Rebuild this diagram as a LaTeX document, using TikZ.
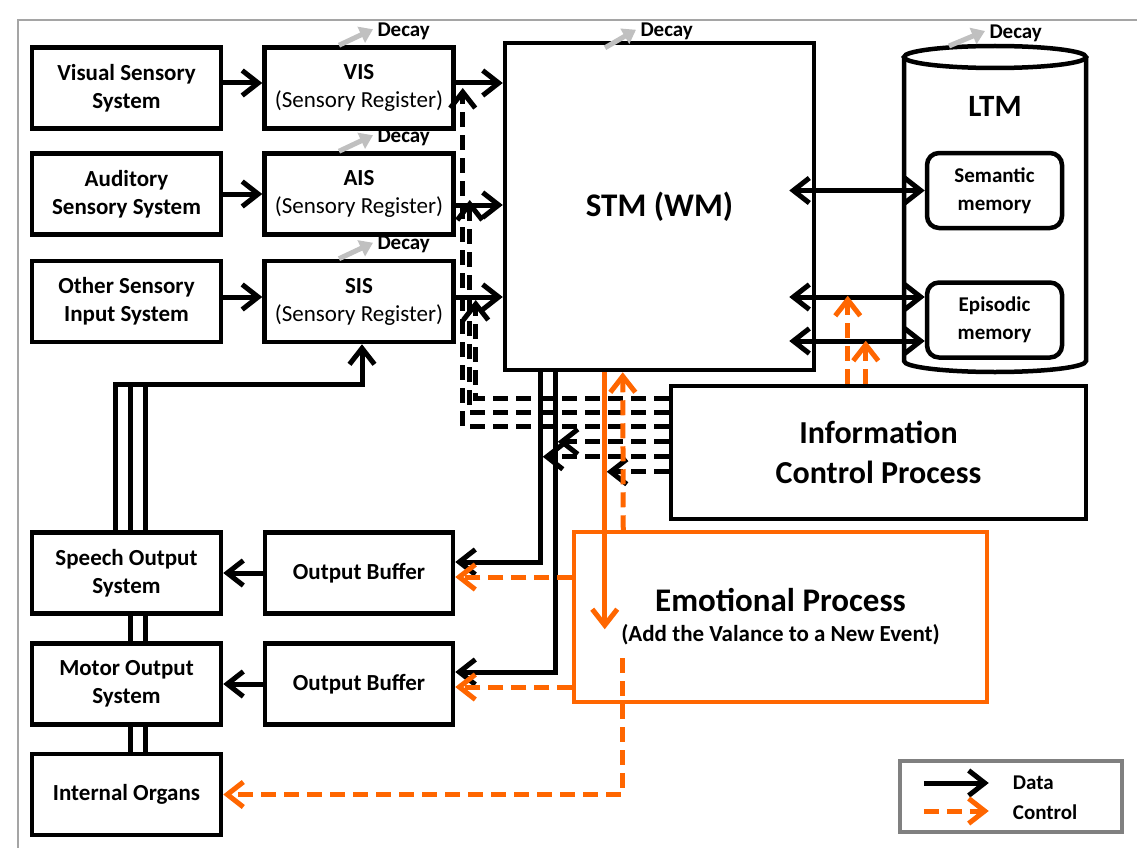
\documentclass[tikz,border=0pt]{standalone}
\usepackage{fontspec}
\setmainfont{Carlito}
\usetikzlibrary{arrows.meta,calc,backgrounds}
\definecolor{emoorange}{RGB}{255,102,0}
\definecolor{decaygray}{RGB}{192,192,192}
\definecolor{framegray}{RGB}{165,165,165}
\definecolor{legendgray}{RGB}{128,128,128}
\begin{document}
\begin{tikzpicture}[x=1pt,y=-1pt,
    >={Straight Barb[length=16pt,width=25pt]},
    box/.style={draw,line width=4.5pt,fill=white,align=center,inner sep=0pt,
        font=\fontsize{23}{28}\selectfont\bfseries},
    sbox/.style={box,minimum width=189,minimum height=81},
    data/.style={line width=5pt,->},
    ctrl/.style={line width=5pt,->,dash pattern=on 15pt off 8pt},
    decay/.style={line width=5pt,decaygray,-{Triangle[length=13pt,width=17pt]}},
    decaytext/.style={black,right,inner sep=2pt,yshift=-2pt,font=\fontsize{21}{24}\selectfont\bfseries}]
    \useasboundingbox (0,0) rectangle (1137,848);
    % sensory side
    \node[sbox] (vss) at (126.5,88) {Visual Sensory\\System};
    \node[sbox] (ass) at (126.5,194) {Auditory\\Sensory System};
    \node[sbox] (oss) at (126.5,301.5) {Other Sensory\\Input System};
    \node[sbox] (vis) at (359,88) {VIS\\{\mdseries (Sensory Register)}};
    \node[sbox] (ais) at (359,194) {AIS\\{\mdseries (Sensory Register)}};
    \node[sbox] (sis) at (359,301.5) {SIS\\{\mdseries (Sensory Register)}};
    % memories
    \node[box,minimum width=309,minimum height=327,font=\fontsize{33}{40}\selectfont\bfseries] (stm) at (659.5,206.5) {STM (WM)};
    \draw[line width=4.5pt,fill=white] (904,57) -- (904,361) arc[start angle=180,end angle=0,x radius=91,y radius=11] -- (1086,57);
    \draw[line width=4.5pt,fill=white] (995,57) ellipse[x radius=91,y radius=11];
    \coordinate (ltmtop) at (995,46);
    \node[font=\fontsize{31}{36}\selectfont\bfseries] (ltm) at (995,106) {LTM};
    \node[box,rounded corners=12pt,minimum width=135,minimum height=75,font=\fontsize{21}{28}\selectfont\bfseries] (sem) at (994.5,190.5) {Semantic\\memory};
    \node[box,rounded corners=12pt,minimum width=135,minimum height=75,font=\fontsize{21}{28}\selectfont\bfseries] (epi) at (994.5,320) {Episodic\\memory};
    % processes
    \node[box,minimum width=415,minimum height=133,font=\fontsize{32}{40}\selectfont\bfseries] (icp) at (878.5,452.5) {Information\\Control Process};
    \node[box,draw=emoorange,line width=3.5pt,minimum width=413,minimum height=170,font=\fontsize{33}{36}\selectfont\bfseries] (emo) at (780.5,617)
        {Emotional Process\\[-6pt]{\fontsize{23}{26}\selectfont (Add the Valance to a New Event)}};
    % output side
    \node[sbox,minimum width=188] (ob1) at (359,573) {Output Buffer};
    \node[sbox,minimum width=188] (ob2) at (359,684) {Output Buffer};
    \node[sbox] (speech) at (126.5,573) {Speech Output\\System};
    \node[sbox] (motor) at (126.5,684) {Motor Output\\System};
    \node[sbox] (organs) at (126.5,794.5) {Internal Organs};
    % legend
    \node[draw=legendgray,line width=4.5pt,minimum width=222,minimum height=71,inner sep=0pt] (legend) at (1011,796.5) {};
    \node[anchor=west,inner sep=0pt,font=\fontsize{21}{24}\selectfont\bfseries] (ldata) at ([shift={(115pt,13.5pt)}]legend.west) {Data};
    \node[anchor=west,inner sep=0pt,font=\fontsize{21}{24}\selectfont\bfseries] (lctrl) at ([shift={(115pt,-15.5pt)}]legend.west) {Control};
    \draw[data] ([shift={(26pt,13.5pt)}]legend.west) -- ++(65,0);
    \draw[ctrl,emoorange] ([shift={(26pt,-14.5pt)}]legend.west) -- ++(65,0);

    \begin{pgfonlayer}{background}
    \fill[white] (0,0) rectangle (1137,848);
    \draw[framegray,line width=2pt] (18,848) -- (18,20) -- (1137,20);
    \draw[line width=5pt] ([xshift=3.5pt]organs.north) -- ++(0,-368);
    \draw[line width=5pt] ([xshift=18.5pt]organs.north) -- ++(0,-368);
    \end{pgfonlayer}

    % decay
    \foreach \n in {vis,ais,sis}
        \draw[decay] ($(\n.north)+(-20,0)$) -- ++(34,-16) node[decaytext] (decay\n) {Decay};
    \draw[decay] ($(stm.north)+(-54.5,7)$) -- ++(31,-18) node[decaytext] (decaystm) {Decay};
    \draw[decay] ($(ltmtop)+(-46,0)$) -- ++(36,-15) node[decaytext] (decayltm) {Decay};

    % data flow
    \coordinate (vo) at ([yshift=5pt]vis.east);
    \coordinate (ao) at ([yshift=-11pt]ais.east);
    \coordinate (so) at ([yshift=4.5pt]sis.east);
    \draw[data] ([yshift=5pt]vss.east) -- ([yshift=5pt]vis.west);
    \draw[data] (ass.east) -- (ais.west);
    \draw[data] ([yshift=4.5pt]oss.east) -- ([yshift=4.5pt]sis.west);
    \draw[data] (vo) -- (vo -| stm.west);
    \draw[data] (ao) -- (ao -| stm.west);
    \draw[data] (so) -- (so -| stm.west);
    \coordinate (stmr) at ([xshift=-27pt]stm.east);
    \coordinate (e1) at ([yshift=23pt]epi.west);
    \coordinate (e2) at ([yshift=-21pt]epi.west);
    \draw[data,<->] (stmr |- sem.west) -- (sem.west);
    \draw[data,<->] (stmr |- e1) -- (e1);
    \draw[data,<->] (stmr |- e2) -- (e2);
    \draw[data] ([xshift=38pt]stm.south west) |- ([yshift=11pt]ob1.east);
    \draw[data] ([xshift=53pt]stm.south west) |- ([yshift=12pt]ob2.east);
    \draw[data] (ob1.west) -- (speech.east);
    \draw[data] (ob2.west) -- (motor.east);
    \draw[data] ([xshift=-11.5pt]speech.north) -- ++(0,-146) -| ([xshift=3pt]sis.south);

    % control from the information control process
    \draw[ctrl] ([yshift=-15pt]icp.north west) -| ($(so)+(20,3)$);
    \draw[ctrl] ([yshift=-29pt]icp.north west) -| ($(ao)+(14,-5)$);
    \draw[ctrl] ([yshift=-43pt]icp.north west) -| ($(vo)+(7,5)$);
    \draw[ctrl] ([yshift=-58pt]icp.north west) -- ++(-111,0);
    \draw[ctrl] ([yshift=-73pt]icp.north west) -- ++(-126,0);
    \draw[ctrl] ([yshift=-88pt]icp.north west) -- ++(-62,0);
    \draw[ctrl,emoorange] ([xshift=179pt]icp.north west) -- ++(0,-88);
    \draw[ctrl,emoorange] ([xshift=197pt]icp.north west) -- ++(0,-43);

    % emotional process
    \draw[data,emoorange] ([xshift=102pt]stm.south west) -- ++(0,257);
    \draw[ctrl,emoorange] ([xshift=51pt]emo.north west) -- ([xshift=120pt]stm.south west);
    \coordinate (c1) at ([yshift=-4pt]ob1.east);
    \coordinate (c2) at ([yshift=-3pt]ob2.east);
    \draw[ctrl,emoorange] (c1 -| emo.west) -- (c1);
    \draw[ctrl,emoorange] (c2 -| emo.west) -- (c2);
    \draw[ctrl,emoorange] ([shift={(50pt,-128pt)}]emo.north west) |- (organs.east);
\end{tikzpicture}
\end{document}
